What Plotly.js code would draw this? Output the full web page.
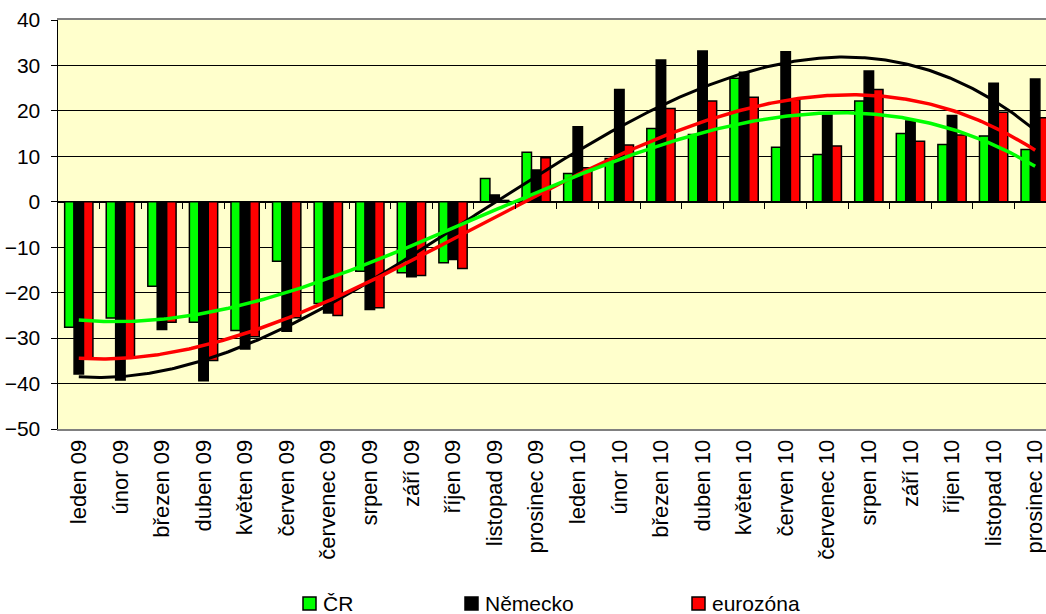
<!DOCTYPE html>
<html>
<head>
<meta charset="utf-8">
<script src="https://cdn.plot.ly/plotly-3.0.1.min.js"></script>
<style>html,body{margin:0;padding:0;background:#fff;}#chart{width:1046px;height:614px;}</style>
</head>
<body>
<div id="chart"></div>
<script>
var months = ['leden 09','únor 09','březen 09','duben 09','květen 09','červen 09','červenec 09','srpen 09','září 09','říjen 09','listopad 09','prosinec 09',
              'leden 10','únor 10','březen 10','duben 10','květen 10','červen 10','červenec 10','srpen 10','září 10','říjen 10','listopad 10','prosinec 10'];
var seriesNames = ['ČR','Německo','eurozóna'];
var crValues = [-27.6,-25.6,-18.6,-26.5,-28.3,-13.1,-22.4,-15.3,-15.6,-13.4,5.1,10.9,6.2,9.5,16.1,14.8,27.2,12.0,10.4,22.2,15.0,12.6,14.5,11.5];
var deValues = [-37.9,-39.2,-28.1,-39.4,-32.4,-28.5,-24.5,-23.7,-16.5,-12.7,1.5,7.0,16.5,24.7,31.2,33.2,28.5,33.0,19.1,28.8,17.8,19.0,26.1,27.0];
var ezValues = [-34.6,-34.3,-26.5,-34.9,-29.7,-25.5,-25.0,-23.3,-16.2,-14.7,0.3,9.7,7.5,12.5,20.5,22.2,23.0,22.5,12.3,24.7,13.3,14.7,19.7,18.5];
var colors = ['#00FF00','#000000','#FF0000'];
var yTicks = [-50,-40,-30,-20,-10,0,10,20,30,40];

// cubic least-squares trendline (as the spreadsheet's polynomial trendline)
function polyFit(ys, order){
  var n = order+1, A = [], b = [];
  for (var i=0;i<n;i++){A.push(new Array(n).fill(0)); b.push(0);}
  ys.forEach(function(y,x){
    for (var i=0;i<n;i++){
      b[i] += y*Math.pow(x,i);
      for (var j=0;j<n;j++) A[i][j] += Math.pow(x,i+j);
    }
  });
  for (var c=0;c<n;c++){
    var p=c; for (var r=c+1;r<n;r++) if (Math.abs(A[r][c])>Math.abs(A[p][c])) p=r;
    var t=A[c];A[c]=A[p];A[p]=t; var tb=b[c];b[c]=b[p];b[p]=tb;
    for (var r2=c+1;r2<n;r2++){
      var f=A[r2][c]/A[c][c];
      for (var k=c;k<n;k++) A[r2][k]-=f*A[c][k];
      b[r2]-=f*b[c];
    }
  }
  var coef=new Array(n).fill(0);
  for (var r3=n-1;r3>=0;r3--){
    var s=b[r3]; for (var k2=r3+1;k2<n;k2++) s-=A[r3][k2]*coef[k2];
    coef[r3]=s/A[r3][r3];
  }
  return coef;
}
function trend(ys){
  var coef = polyFit(ys,3), xs=[], out=[];
  var last = ys.length-1;
  for (var k=0;k<=last*20;k++){
    var x=k/20, v=0;
    for (var i=0;i<coef.length;i++) v+=coef[i]*Math.pow(x,i);
    xs.push(x); out.push(v);
  }
  return {x:xs,y:out};
}

var all = [crValues, deValues, ezValues];
var traces = [];
all.forEach(function(vals, i){
  traces.push({type:'bar', x:months, y:vals, name:seriesNames[i],
    marker:{color:colors[i], line:{color:'#000', width:1.5}},
    hoverinfo:'x+y', showlegend:false});
});
[1,2,0].forEach(function(i){
  var t = trend(all[i]);
  traces.push({type:'scatter', mode:'lines', x:t.x, y:t.y, xaxis:'x2', yaxis:'y',
    line:{color:colors[i], width: i===1 ? 3 : 3.5, shape:'linear'}, hoverinfo:'skip', showlegend:false});
});

var boundaries = [];
for (var k=0;k<months.length-1;k++) boundaries.push(k+0.5);

var L=58, W=1046-58, T=20, B=429, H=B-T;
function px(x){return (x-L)/W;}
function py(y){return (B-y)/H;}

var legendX = [303, 465, 692];
var shapes = [], annotations = [];
seriesNames.forEach(function(nm,i){
  shapes.push({type:'rect', xref:'paper', yref:'paper', x0:px(legendX[i]), x1:px(legendX[i]+13), y0:py(597), y1:py(610),
    fillcolor:colors[i], line:{color:'#000', width:1.5}});
  annotations.push({xref:'paper', yref:'paper', x:px(legendX[i]+18), y:py(603.5), xanchor:'left', yanchor:'middle',
    text:nm, showarrow:false, font:{size:21, color:'#000'}});
});

var layout = {
  width:1046, height:614,
  margin:{l:L, r:0, t:T, b:614-B, pad:0},
  paper_bgcolor:'#FFFFFF', plot_bgcolor:'#FFFFCC',
  font:{family:'Arial, "Liberation Sans", sans-serif', color:'#000', size:21},
  barmode:'group', bargap:0.32, bargroupgap:0,
  showlegend:false,
  xaxis:{type:'category', range:[-0.5, 23.26], tickangle:-90, ticks:'', showgrid:false,
    tickfont:{size:22}, showline:true, linecolor:'#808080', linewidth:2, mirror:true, fixedrange:true, automargin:false},
  xaxis2:{type:'linear', overlaying:'x', anchor:'free', position:py(202.3), side:'bottom',
    range:[-0.5, 23.26], tickvals:boundaries, ticks:'outside', ticklen:6, tickcolor:'#000', tickwidth:1,
    showticklabels:false, showgrid:false, zeroline:false, showline:false},
  yaxis:{range:[-50,40], tickvals:yTicks, ticks:'outside', ticklen:6, tickcolor:'#000', tickwidth:1,
    showline:true, linecolor:'#000', linewidth:1.5, gridcolor:'#000', gridwidth:1,
    zeroline:true, zerolinecolor:'#000', zerolinewidth:1.5, tickfont:{size:21}, ticklabelstandoff:6, automargin:false},
  shapes:shapes, annotations:annotations
};
Plotly.newPlot('chart', traces, layout, {displayModeBar:false, staticPlot:true});
</script>
</body>
</html>
